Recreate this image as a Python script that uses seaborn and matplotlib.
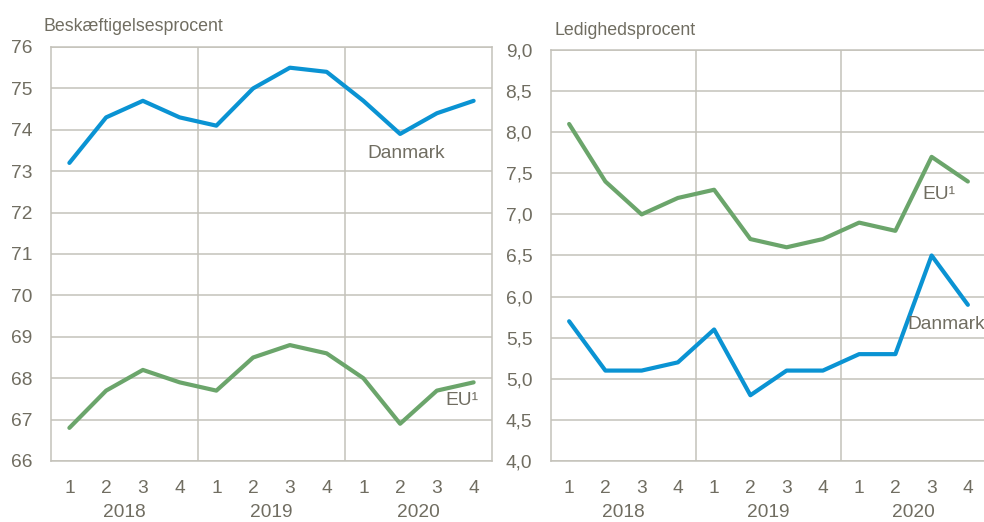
import numpy as np
import pandas as pd
import matplotlib
matplotlib.use("Agg")
import matplotlib.pyplot as plt
import seaborn as sns

quarters = ["1", "2", "3", "4", "1", "2", "3", "4", "1", "2", "3", "4"]
years = ["2018", "2019", "2020"]

emp_dk = [73.2, 74.3, 74.7, 74.3, 74.1, 75.0, 75.5, 75.4, 74.7, 73.9, 74.4, 74.7]
emp_eu = [66.8, 67.7, 68.2, 67.9, 67.7, 68.5, 68.8, 68.6, 68.0, 66.9, 67.7, 67.9]
unemp_eu = [8.1, 7.4, 7.0, 7.2, 7.3, 6.7, 6.6, 6.7, 6.9, 6.8, 7.7, 7.4]
unemp_dk = [5.7, 5.1, 5.1, 5.2, 5.6, 4.8, 5.1, 5.1, 5.3, 5.3, 6.5, 5.9]

BLUE = "#0A93D3"
GREEN = "#6BA56B"
GRID = "#C4C2BA"
TEXT = "#706D61"
FS = 13.8

sns.set_theme(style="white")
plt.rcParams["font.family"] = ["Liberation Sans", "DejaVu Sans"]

fig = plt.figure(figsize=(9.84, 5.22), dpi=100)
ax1 = fig.add_axes([51/984, 61/522, 441/984, 414/522])
ax2 = fig.add_axes([551/984, 61/522, 435/984, 411/522])

idx = np.arange(len(quarters))


def style(ax, ylim, yticks, fmt, right_spine=True):
    ax.set_xlim(-0.5, len(quarters) - 0.5)
    ax.set_ylim(*ylim)
    ax.set_yticks(yticks)
    ax.set_yticklabels([fmt(v) for v in yticks])
    ax.set_xticks(idx)
    ax.set_xticklabels(quarters)
    ax.tick_params(axis="both", length=0, labelsize=FS, colors=TEXT)
    ax.tick_params(axis="y", pad=13.5)
    ax.tick_params(axis="x", pad=14)
    for y in yticks:
        ax.axhline(y, color=GRID, lw=1.1, zorder=0)
    for xb in [3.5, 7.5]:
        ax.axvline(xb, color=GRID, lw=1.1, zorder=0)
    for name, sp in ax.spines.items():
        sp.set_color(GRID)
        sp.set_linewidth(1.1)
    if not right_spine:
        ax.spines["right"].set_visible(False)
    trans = ax.get_xaxis_transform()
    for i, yr in enumerate(years):
        ax.text(1.5 + 4 * i, -0.125, yr, transform=trans,
                ha="center", va="center", fontsize=FS, color=TEXT)
    ax.set_xlabel("")
    ax.set_ylabel("")


df1 = pd.DataFrame({"x": np.concatenate([idx, idx]),
                    "v": emp_dk + emp_eu,
                    "s": ["Danmark"] * 12 + ["EU"] * 12})
sns.lineplot(data=df1, x="x", y="v", hue="s", palette={"Danmark": BLUE, "EU": GREEN},
             lw=3, legend=False, ax=ax1, zorder=3)
style(ax1, (66, 76), list(range(66, 77)), lambda v: f"{v:d}")
ax1.text(-0.018, 1.03, "Beskæftigelsesprocent", transform=ax1.transAxes, ha="left",
         va="bottom", fontsize=12.8, color=TEXT)
ax1.text(9.16, 73.42, "Danmark", ha="center", va="center", fontsize=FS, color=TEXT)
ax1.text(10.68, 67.45, "EU¹", ha="center", va="center", fontsize=FS, color=TEXT)

df2 = pd.DataFrame({"x": np.concatenate([idx, idx]),
                    "v": unemp_dk + unemp_eu,
                    "s": ["Danmark"] * 12 + ["EU"] * 12})
sns.lineplot(data=df2, x="x", y="v", hue="s", palette={"Danmark": BLUE, "EU": GREEN},
             lw=3, legend=False, ax=ax2, zorder=3)
yt2 = [4.0 + 0.5 * i for i in range(11)]
style(ax2, (4.0, 9.0), yt2, lambda v: f"{v:.1f}".replace(".", ","), right_spine=False)
ax2.text(0.007, 1.027, "Ledighedsprocent", transform=ax2.transAxes, ha="left",
         va="bottom", fontsize=12.8, color=TEXT)
ax2.text(10.19, 7.24, "EU¹", ha="center", va="center", fontsize=FS, color=TEXT)
ax2.text(11.47, 5.66, "Danmark", ha="right", va="center", fontsize=FS, color=TEXT)

fig.savefig("out.png", dpi=100)
